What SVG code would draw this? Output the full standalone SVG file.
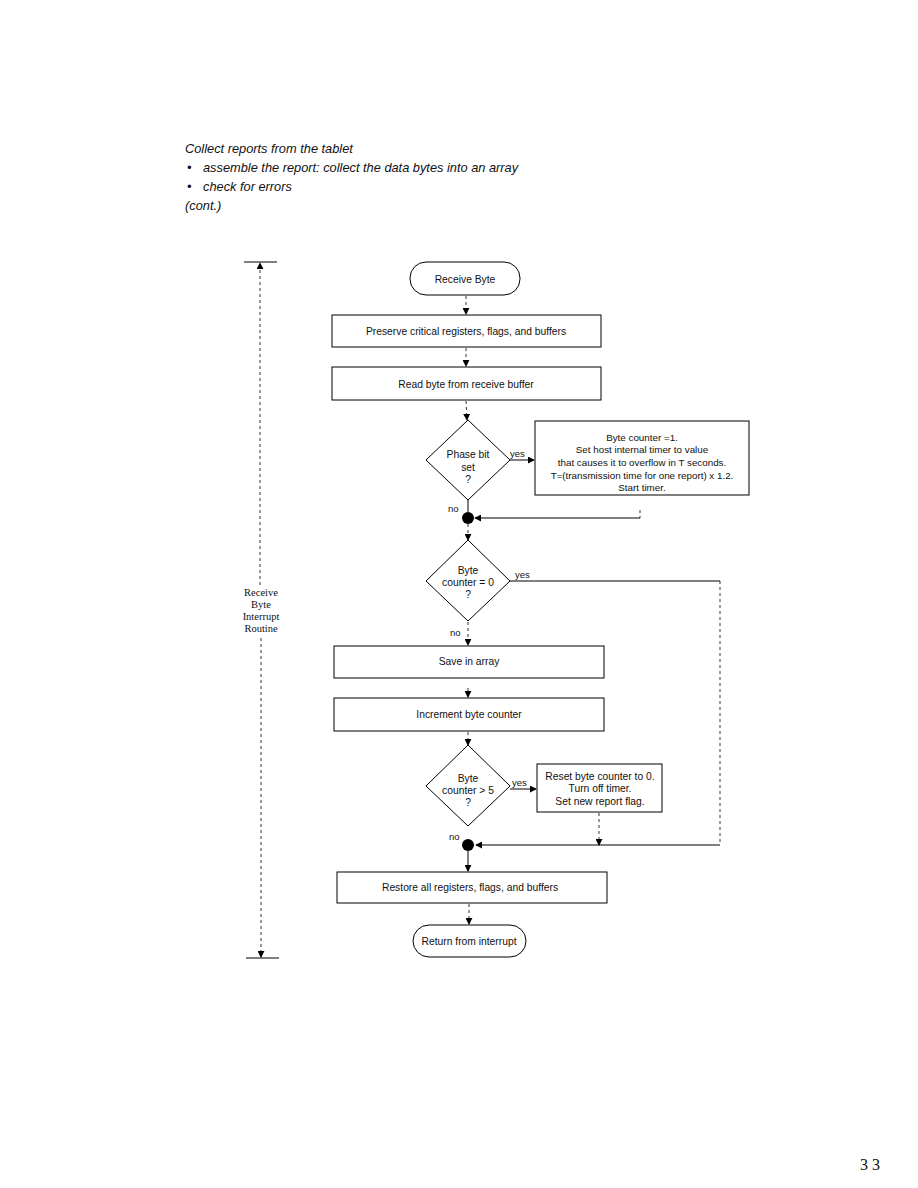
<svg xmlns="http://www.w3.org/2000/svg" width="918" height="1188" viewBox="0 0 918 1188">
<defs>
<marker id="ah" viewBox="0 0 8 8" refX="7" refY="4" markerWidth="7" markerHeight="7" markerUnits="userSpaceOnUse" orient="auto">
<path d="M0,0 L8,4 L0,8 z" fill="#000"/>
</marker>
</defs>
<style>
.hd{font-family:"Liberation Sans",Arial,sans-serif;font-style:italic;font-size:12.8px;fill:#111}
.t{font-family:"Liberation Sans",Arial,sans-serif;font-size:10.3px;fill:#111;text-anchor:middle}
.t2{font-family:"Liberation Sans",Arial,sans-serif;font-size:9.8px;fill:#111;text-anchor:middle}
.s{font-family:"Liberation Serif","Times New Roman",serif;font-size:10.5px;fill:#111;text-anchor:middle}
.lb{font-family:"Liberation Sans",Arial,sans-serif;font-size:9.5px;fill:#111}
.box{fill:#fff;stroke:#000;stroke-width:1}
.c{fill:none;stroke:#000;stroke-width:1}
.d{fill:none;stroke:#000;stroke-width:0.8;stroke-dasharray:3,3}
</style>
<rect width="918" height="1188" fill="#fff"/>

<g id="header">
<text class="hd" x="185" y="153">Collect reports from the tablet</text>
<text class="hd" x="187" y="172">•</text>
<text class="hd" x="203" y="172">assemble the report: collect the data bytes into an array</text>
<text class="hd" x="187" y="191">•</text>
<text class="hd" x="203" y="191">check for errors</text>
<text class="hd" x="185" y="210">(cont.)</text>
</g>

<g id="connectors">
<line class="d" x1="466" y1="296" x2="466" y2="314" marker-end="url(#ah)"/>
<line class="d" x1="466" y1="348" x2="466" y2="366" marker-end="url(#ah)"/>
<line class="d" x1="466" y1="401" x2="467" y2="420" marker-end="url(#ah)"/>
<line class="c" x1="510" y1="460" x2="534" y2="460" marker-end="url(#ah)"/>
<line class="d" x1="640" y1="510" x2="640" y2="518"/>
<line class="c" x1="640" y1="518" x2="475" y2="518" marker-end="url(#ah)"/>
<line class="c" x1="468" y1="500" x2="468" y2="512"/>
<line class="d" x1="468" y1="524" x2="468" y2="540" marker-end="url(#ah)"/>
<line class="c" x1="510" y1="581" x2="720" y2="581"/>
<line class="d" x1="720" y1="581" x2="720" y2="845"/>
<line class="d" x1="468" y1="622" x2="468" y2="645" marker-end="url(#ah)"/>
<line class="d" x1="468" y1="688" x2="468" y2="697" marker-end="url(#ah)"/>
<line class="d" x1="468" y1="732" x2="468" y2="745" marker-end="url(#ah)"/>
<line class="c" x1="510" y1="789" x2="536" y2="789" marker-end="url(#ah)"/>
<line class="d" x1="599" y1="813" x2="599" y2="845" marker-end="url(#ah)"/>
<line class="c" x1="720" y1="845" x2="476" y2="845" marker-end="url(#ah)"/>
<line class="c" x1="468" y1="851" x2="468" y2="871" marker-end="url(#ah)"/>
<line class="d" x1="469" y1="904" x2="469" y2="924" marker-end="url(#ah)"/>
</g>

<g id="n_receive_byte">
<rect class="box" x="410" y="262" width="110" height="33" rx="16" ry="16"/>
<text class="t" x="465" y="283">Receive Byte</text>
</g>
<g id="n_preserve">
<rect class="box" x="332" y="315" width="269" height="32"/>
<text class="t" x="466" y="335">Preserve critical registers, flags, and buffers</text>
</g>
<g id="n_read">
<rect class="box" x="332" y="367" width="269" height="33"/>
<text class="t" x="466" y="388">Read byte from receive buffer</text>
</g>
<g id="n_phase">
<polygon class="box" points="468,420 510,460 468,500 426,460"/>
<text class="t" x="468" y="458">Phase bit</text>
<text class="t" x="468" y="471">set</text>
<text class="t" x="468" y="483">?</text>
</g>
<text class="lb" x="510" y="457">yes</text>
<g id="n_set_timer">
<rect class="box" x="535" y="421" width="214" height="74"/>
<text class="t2" x="642" y="441">Byte counter =1.</text>
<text class="t2" x="642" y="453">Set host internal timer to value</text>
<text class="t2" x="642" y="466">that causes it to overflow in T seconds.</text>
<text class="t2" x="642" y="479">T=(transmission time for one report) x 1.2.</text>
<text class="t2" x="642" y="491">Start timer.</text>
</g>
<text class="lb" x="448" y="512">no</text>
<g id="j1"><circle cx="468" cy="518" r="6" fill="#000"/></g>
<g id="n_counter0">
<polygon class="box" points="468,540 510,581 468,621 426,581"/>
<text class="t" x="468" y="574">Byte</text>
<text class="t" x="468" y="586">counter = 0</text>
<text class="t" x="468" y="598">?</text>
</g>
<text class="lb" x="515" y="578">yes</text>
<text class="lb" x="450" y="636">no</text>
<g id="n_save">
<rect class="box" x="334" y="646" width="270" height="32"/>
<text class="t" x="469" y="665">Save in array</text>
</g>
<g id="n_increment">
<rect class="box" x="334" y="698" width="270" height="33"/>
<text class="t" x="469" y="718">Increment byte counter</text>
</g>
<g id="n_counter5">
<polygon class="box" points="468,745 510,786 468,826 426,786"/>
<text class="t" x="468" y="782">Byte</text>
<text class="t" x="468" y="794">counter &gt; 5</text>
<text class="t" x="468" y="806">?</text>
</g>
<text class="lb" x="512" y="786">yes</text>
<g id="n_reset">
<rect class="box" x="537" y="764" width="125" height="48"/>
<text class="t" x="600" y="780">Reset byte counter to 0.</text>
<text class="t" x="600" y="792">Turn off timer.</text>
<text class="t" x="600" y="805">Set new report flag.</text>
</g>
<text class="lb" x="449" y="840">no</text>
<g id="j2"><circle cx="468" cy="845" r="6" fill="#000"/></g>
<g id="n_restore">
<rect class="box" x="337" y="872" width="270" height="31"/>
<text class="t" x="470" y="891">Restore all registers, flags, and buffers</text>
</g>
<g id="n_return">
<rect class="box" x="413" y="925" width="113" height="32" rx="16" ry="16"/>
<text class="t" x="469" y="945">Return from interrupt</text>
</g>

<g id="bracket">
<line class="c" x1="244" y1="262" x2="277" y2="262"/>
<line class="d" x1="260" y1="585" x2="260" y2="263" marker-end="url(#ah)"/>
<line class="d" x1="261" y1="638" x2="261" y2="957" marker-end="url(#ah)"/>
<line class="c" x1="246" y1="958" x2="279" y2="958"/>
<text class="s" x="261" y="596">Receive</text>
<text class="s" x="261" y="608">Byte</text>
<text class="s" x="261" y="620">Interrupt</text>
<text class="s" x="261" y="632">Routine</text>
</g>
<text x="870" y="1170" style="font-family:'Liberation Serif',serif;font-size:16px;fill:#111;text-anchor:middle">3 3</text>
</svg>
